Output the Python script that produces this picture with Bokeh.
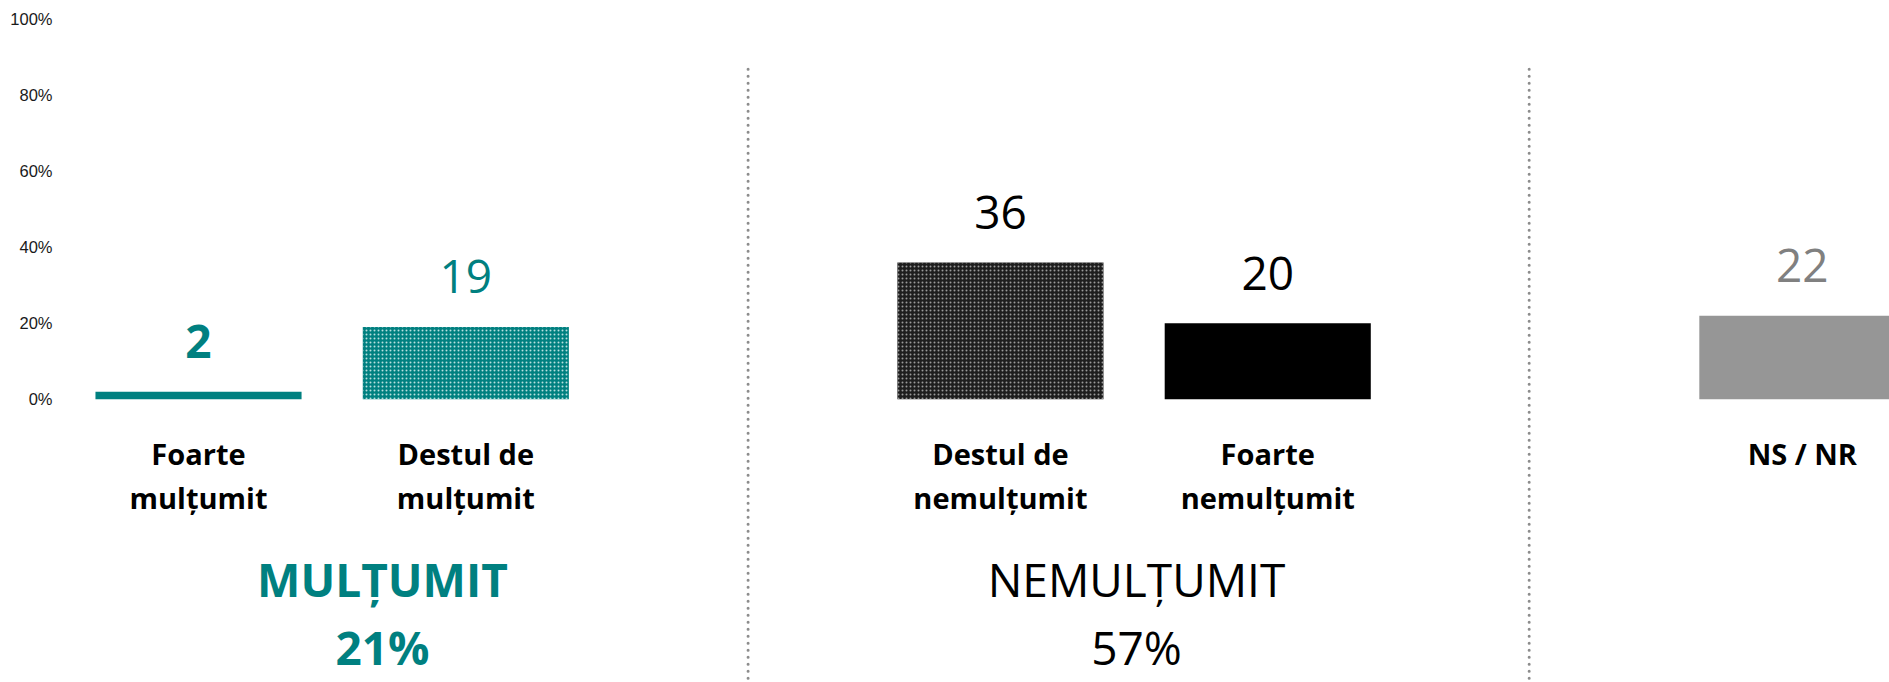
from bokeh.plotting import figure
from bokeh.models import ColumnDataSource, FixedTicker
from bokeh.core.properties import value
from bokeh.embed import file_html
from bokeh.resources import INLINE

# ---- data ----
categories = ["Foarte\nmulțumit", "Destul de\nmulțumit", "Destul de\nnemulțumit",
              "Foarte\nnemulțumit", "NS / NR"]
values = [2, 19, 36, 20, 22]
slots = [0, 1, 3, 4, 6]
group_names = ["MULȚUMIT", "NEMULȚUMIT"]
group_totals = [21, 57]
group_slots = [0.688, 3.509]
divider_slots = [2.056, 4.978]
y_ticks = [0, 20, 40, 60, 80, 100]
y_tick_labels = ["0%", "20%", "40%", "60%", "80%", "100%"]

# ---- styles ----
TEAL = "#008080"
bar_fill = [TEAL, TEAL, "#1e1e1e", "#000000", "#969696"]
bar_hatch = [" ", "dot", "dot", " ", " "]
bar_hatch_color = ["white", "#d8f0ee", "#b0b0b0", "black", "black"]
value_color = [TEAL, TEAL, "#000000", "#000000", "#808080"]
value_style = ["bold", "normal", "normal", "normal", "normal"]
group_color = [TEAL, "#000000"]
group_style = ["bold", "normal"]

BAR_WIDTH = 0.771
VALUE_GAP = 13.2
LINE1_Y = -14.4
LINE2_Y = -25.9
GROUP_Y = -47.3
TOTAL_Y = -65.3
DIVIDER_TOP = 86.9
DIVIDER_BOTTOM = -90

FONT = value("Open Sans")

p = figure(width=1889, height=682,
           x_range=(-0.4789, 6.326), y_range=(-74.57, 105.0),
           output_backend="svg", toolbar_location=None,
           x_axis_location=None,
           min_border_left=70, min_border_right=0,
           min_border_top=0, min_border_bottom=0)
p.outline_line_color = None
p.grid.visible = False
p.background_fill_color = "white"
p.border_fill_color = "white"

yax = p.yaxis[0]
yax.ticker = FixedTicker(ticks=y_ticks)
yax.major_label_overrides = dict(zip(y_ticks, y_tick_labels))
yax.axis_line_color = None
yax.major_tick_line_color = None
yax.minor_tick_line_color = None
yax.major_tick_out = 0
yax.major_tick_in = 0
yax.major_label_standoff = 18
yax.major_label_text_font = "Liberation Sans"
yax.major_label_text_font_size = "16.5px"
yax.major_label_text_color = "#1a1a1a"

bars = ColumnDataSource(dict(
    x=slots, top=values, fill=bar_fill, hatch=bar_hatch, hcol=bar_hatch_color,
    lab_y=[v + VALUE_GAP for v in values], lab=[str(v) for v in values],
    lcol=value_color, lstyle=value_style,
    line1=[c.split("\n")[0] for c in categories],
    line2=[c.split("\n")[1] if "\n" in c else "" for c in categories],
))

p.vbar(x="x", top="top", bottom=0, width=BAR_WIDTH, source=bars,
       fill_color="fill", line_color=None,
       hatch_pattern="hatch", hatch_color="hcol", hatch_scale=4, hatch_weight=1.0,
       hatch_alpha=0.85)

p.segment(x0=divider_slots, x1=divider_slots,
          y0=[DIVIDER_TOP] * len(divider_slots), y1=[DIVIDER_BOTTOM] * len(divider_slots),
          line_color="#8c8c8c", line_width=3, line_dash="0 7", line_cap="round")

p.text(x="x", y="lab_y", text="lab", source=bars, text_align="center",
       text_baseline="alphabetic", text_font=FONT, text_font_size="46px",
       text_color="lcol", text_font_style="lstyle")

p.text(x="x", y=LINE1_Y, text="line1", source=bars, text_align="center",
       text_baseline="alphabetic", text_font=FONT, text_font_size="29px",
       text_color="#000000", text_font_style="bold")
p.text(x="x", y=LINE2_Y, text="line2", source=bars, text_align="center",
       text_baseline="alphabetic", text_font=FONT, text_font_size="29px",
       text_color="#000000", text_font_style="bold")

groups = ColumnDataSource(dict(
    x=group_slots, name=group_names, total=[f"{t}%" for t in group_totals],
    col=group_color, style=group_style,
))
p.text(x="x", y=GROUP_Y, text="name", source=groups, text_align="center",
       text_baseline="alphabetic", text_font=FONT, text_font_size="46px",
       text_color="col", text_font_style="style")
p.text(x="x", y=TOTAL_Y, text="total", source=groups, text_align="center",
       text_baseline="alphabetic", text_font=FONT, text_font_size="46px",
       text_color="col", text_font_style="style")

open("out.html", "w").write(file_html(p, INLINE))
